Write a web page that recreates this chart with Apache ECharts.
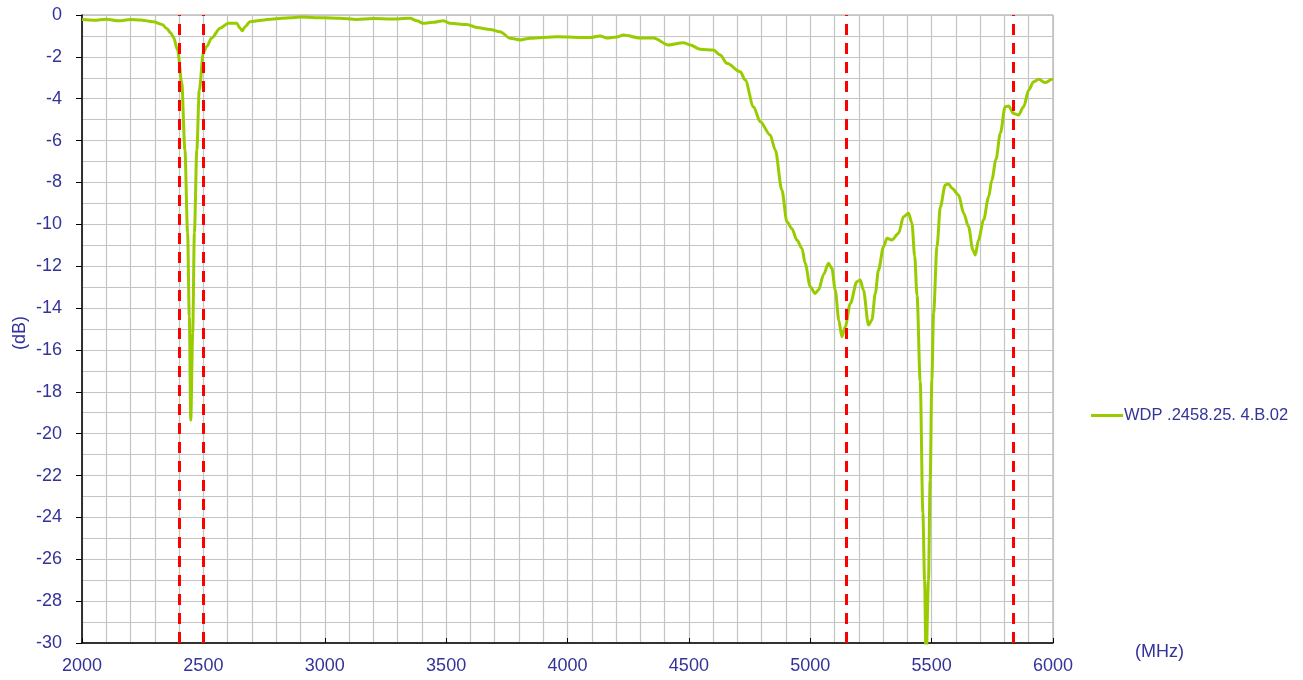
<!DOCTYPE html>
<html>
<head>
<meta charset="utf-8">
<script src="https://cdn.jsdelivr.net/npm/echarts@6/dist/echarts.min.js"></script>
<style>
html,body{margin:0;padding:0;background:#fff;}
#chart{width:1303px;height:680px;}
</style>
</head>
<body>
<div id="chart"></div>
<script>
// Frequency (MHz)
const freq = [2000,2050,2100,2150,2200,2239,2294,2330,2349,2365,2376,2394,2411,2424,2435,2442,2448,2456,2463,2473,2483,2500,2514,2534,2569,2603,2637,2651,2660,2672,2692,2740,2788,2857,2898,2994,3060,3132,3200,3269,3352,3380,3406,3448,3489,3516,3585,3626,3681,3722,3764,3805,3846,3956,4093,4134,4162,4203,4230,4299,4354,4416,4478,4505,4547,4601,4629,4657,4712,4732,4766,4794,4835,4856,4883,4904,4924,4945,4966,4979,5000,5020,5034,5055,5075,5089,5103,5118,5130,5144,5165,5192,5206,5219,5240,5254,5268,5281,5302,5316,5336,5364,5384,5405,5419,5430,5440,5453,5464,5471,5477,5487,5494,5501,5508,5522,5536,5556,5570,5584,5611,5632,5652,5670,5680,5693,5714,5735,5748,5765,5783,5803,5817,5838,5858,5879,5900,5920,5941,5968,5996,6000];
// Return loss (dB)
const db = [-0.22,-0.25,-0.2,-0.28,-0.22,-0.24,-0.32,-0.45,-0.64,-0.85,-1.04,-1.67,-3.25,-6.45,-10.4,-14.4,-19.35,-15.2,-10.4,-6.45,-3.6,-1.8,-1.5,-1.1,-0.63,-0.39,-0.39,-0.63,-0.75,-0.56,-0.32,-0.25,-0.19,-0.13,-0.1,-0.13,-0.15,-0.21,-0.17,-0.19,-0.16,-0.28,-0.4,-0.35,-0.27,-0.4,-0.45,-0.6,-0.69,-0.8,-1.11,-1.19,-1.11,-1.04,-1.08,-1.0,-1.1,-1.05,-0.96,-1.1,-1.1,-1.43,-1.32,-1.43,-1.64,-1.67,-1.91,-2.31,-2.71,-3.1,-4.38,-5.1,-5.73,-6.45,-8.36,-9.88,-10.2,-10.75,-11.15,-11.86,-12.98,-13.3,-13.14,-12.4,-11.86,-12.1,-13.14,-14.6,-15.37,-14.9,-13.78,-12.74,-12.66,-13.14,-14.81,-14.57,-13.3,-12.18,-11.07,-10.67,-10.75,-10.43,-9.64,-9.47,-9.95,-11.5,-13.4,-17.5,-23.8,-27,-31,-27,-22.2,-17.4,-14.25,-11.07,-9.16,-8.12,-8.07,-8.28,-8.6,-9.47,-10.11,-11.23,-11.47,-10.75,-9.79,-8.68,-7.88,-6.9,-5.65,-4.38,-4.35,-4.7,-4.78,-4.38,-3.58,-3.19,-3.07,-3.23,-3.07,-3.05];
// Band edge markers (MHz)
const bandEdges = [2400, 2500, 5150, 5838];
const seriesName = 'WDP .2458.25. 4.B.02';

const textColor = '#333399';
const font = 'Liberation Sans, Arial, sans-serif';

const chart = echarts.init(document.getElementById('chart'));
chart.setOption({
  animation: false,
  backgroundColor: '#fff',
  grid: {left: 82, right: 250, top: 15, bottom: 37, show: true, borderColor: '#9a9a9a', borderWidth: 1, backgroundColor: 'transparent'},
  legend: {
    left: 1086, top: 402, orient: 'vertical',
    icon: 'rect', itemWidth: 32, itemHeight: 3,
    textStyle: {color: textColor, fontSize: 16.5, fontFamily: font, padding: [0,0,0,-4]},
    data: [seriesName]
  },
  xAxis: {
    type: 'value', min: 2000, max: 6000, interval: 500,
    axisLine: {show: true, onZero: false, lineStyle: {color: '#000', width: 1.5}},
    axisTick: {show: true, inside: true, length: 5, lineStyle: {color: '#000'}},
    axisLabel: {color: textColor, fontSize: 18, fontFamily: font, margin: 14, formatter: v => String(v)},
    splitLine: {show: true, lineStyle: {color: '#c4c4c4', width: 1.2}},
    minorTick: {show: false, splitNumber: 5},
    minorSplitLine: {show: true, lineStyle: {color: '#c4c4c4', width: 1.2}}
  },
  yAxis: {
    type: 'value', min: -30, max: 0, interval: 2,
    axisLine: {show: true, onZero: false, lineStyle: {color: '#000', width: 1.5}},
    axisTick: {show: true, inside: false, length: 6, lineStyle: {color: '#000'}},
    axisLabel: {color: textColor, fontSize: 18, fontFamily: font, margin: 20, formatter: v => String(v)},
    splitLine: {show: true, lineStyle: {color: '#c4c4c4', width: 1.2}},
    minorTick: {show: false, splitNumber: 2},
    minorSplitLine: {show: true, lineStyle: {color: '#c4c4c4', width: 1.2}}
  },
  graphic: [
    {type: 'text', left: 1135, top: 643, style: {text: '(MHz)', fill: textColor, font: '18px ' + font}},
    {type: 'text', x: 11, y: 350, rotation: Math.PI/2, style: {text: '(dB)', fill: textColor, font: '18px ' + font}}
  ],
  series: [{
    name: seriesName,
    type: 'line',
    data: freq.map((f, i) => [f, db[i]]),
    showSymbol: false,
    smooth: 0.3,
    smoothMonotone: 'x',
    clip: true,
    lineStyle: {color: '#99cc00', width: 3},
    itemStyle: {color: '#99cc00'},
    markLine: {
      silent: true, symbol: 'none', label: {show: false},
      lineStyle: {color: '#ff0000', width: 3, type: [11, 8]},
      data: bandEdges.map(v => ({xAxis: v}))
    }
  }]
});
</script>
</body>
</html>
